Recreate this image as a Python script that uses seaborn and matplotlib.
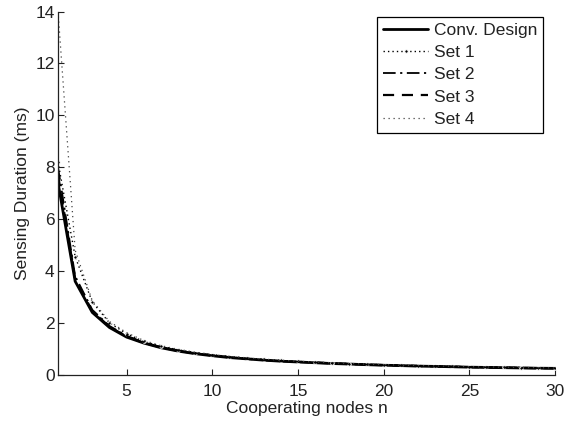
import numpy as np
import pandas as pd
import matplotlib
matplotlib.use("Agg")
import matplotlib.pyplot as plt
import seaborn as sns

# ---- data ----
n_nodes = list(range(1, 31))

conv_design = [7.4, 3.6, 2.4, 1.82, 1.45, 1.22, 1.04, 0.91, 0.81, 0.73,
               0.66, 0.61, 0.56, 0.52, 0.49, 0.46, 0.43, 0.41, 0.385, 0.365,
               0.35, 0.33, 0.32, 0.305, 0.29, 0.28, 0.27, 0.26, 0.25, 0.245]
set1 = [8.2, 4.55, 2.8, 2.0, 1.58, 1.28, 1.1, 0.96, 0.85, 0.77,
        0.70, 0.64, 0.59, 0.55, 0.51, 0.48, 0.45, 0.43, 0.405, 0.385,
        0.365, 0.35, 0.335, 0.32, 0.305, 0.295, 0.285, 0.275, 0.265, 0.255]
set2 = [8.0, 3.8, 2.5, 1.88, 1.5, 1.25, 1.07, 0.94, 0.83, 0.75,
        0.68, 0.62, 0.57, 0.53, 0.50, 0.47, 0.44, 0.415, 0.39, 0.37,
        0.355, 0.34, 0.325, 0.31, 0.295, 0.285, 0.275, 0.265, 0.255, 0.25]
set3 = [7.7, 3.7, 2.45, 1.85, 1.47, 1.23, 1.05, 0.92, 0.82, 0.74,
        0.67, 0.615, 0.565, 0.525, 0.495, 0.465, 0.435, 0.41, 0.388, 0.368,
        0.352, 0.335, 0.322, 0.307, 0.292, 0.282, 0.272, 0.262, 0.252, 0.247]
set4 = [14.0, 4.8, 2.85, 2.05, 1.62, 1.32, 1.12, 0.98, 0.87, 0.78,
        0.71, 0.65, 0.60, 0.56, 0.52, 0.49, 0.46, 0.435, 0.41, 0.39,
        0.37, 0.355, 0.34, 0.325, 0.31, 0.30, 0.29, 0.28, 0.27, 0.26]

series_names = ["Conv. Design", "Set 1", "Set 2", "Set 3", "Set 4"]
series_values = [conv_design, set1, set2, set3, set4]

x_ticks = [5, 10, 15, 20, 25, 30]
y_ticks = [0, 2, 4, 6, 8, 10, 12, 14]

# ---- style ----
sns.set_style("ticks")
plt.rcParams["font.family"] = ["Liberation Sans", "DejaVu Sans"]
FS = 12.5
TXT = "#222222"

fig = plt.figure(figsize=(5.66, 4.23), dpi=100)
ax = fig.add_axes([0.1025, 0.1142, 0.8781, 0.8586])

styles = {
    "Conv. Design": dict(linestyle="-", linewidth=2.0, color="black"),
    "Set 1": dict(linestyle=(0, (1, 2.2)), linewidth=1.0, marker="o",
                  markersize=2.5, color="black"),
    "Set 2": dict(linestyle=(0, (7, 2.5, 1.2, 2.5)), linewidth=1.3, color="black"),
    "Set 3": dict(linestyle=(0, (5, 3.5)), linewidth=1.6, color="black"),
    "Set 4": dict(linestyle=(0, (1, 3)), linewidth=0.9, color="#444444"),
}

for name, vals in zip(series_names, series_values):
    df = pd.DataFrame({"n": n_nodes, "val": vals})
    sns.lineplot(data=df, x="n", y="val", ax=ax, label=name, **styles[name])

ax.set_xlim(1, 30)
ax.set_ylim(0, 14)
ax.set_xticks(x_ticks)
ax.set_yticks(y_ticks)
ax.tick_params(direction="in", length=4, width=0.8, labelsize=FS, colors=TXT)
ax.tick_params(axis="x", pad=6.5)
ax.tick_params(axis="y", pad=2.5)
for s in ["top", "right"]:
    ax.spines[s].set_visible(False)
for s in ["left", "bottom"]:
    ax.spines[s].set_color(TXT)
    ax.spines[s].set_linewidth(0.9)

ax.set_xlabel("Cooperating nodes n", fontsize=FS, color=TXT, labelpad=1.5)
ax.set_ylabel("Sensing Duration (ms)", fontsize=FS, color=TXT, labelpad=4)

leg = ax.legend(loc="upper right", bbox_to_anchor=(543 / 566, 1 - 17 / 423),
                bbox_transform=fig.transFigure, borderaxespad=0,
                fontsize=FS, frameon=True, fancybox=False, shadow=False,
                handlelength=2.6, handletextpad=0.3, labelspacing=0.4,
                borderpad=0.35, numpoints=1)
leg.get_frame().set_edgecolor("black")
leg.get_frame().set_linewidth(0.9)
leg.get_frame().set_alpha(1)
for t in leg.get_texts():
    t.set_color(TXT)

fig.savefig("out.png", dpi=100)
